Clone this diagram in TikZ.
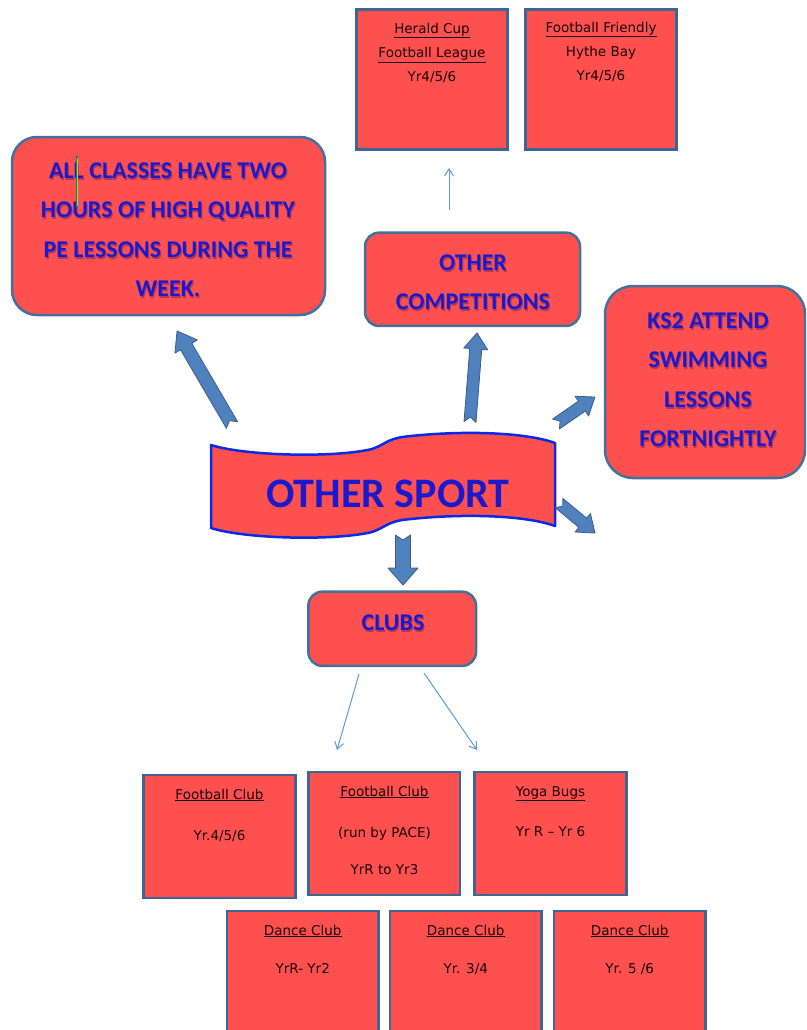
\documentclass[tikz,border=0pt]{standalone}
\usepackage{fontspec}
\usetikzlibrary{arrows.meta,calc}
\newfontfamily\carl{Carlito}
\newfontfamily\smallf{DejaVu Sans}
\definecolor{boxred}{HTML}{FF5050}
\definecolor{boxedge}{HTML}{3D6596}
\definecolor{roundedge}{HTML}{41719C}
\definecolor{txtblue}{HTML}{1A1ACC}
\definecolor{bannerblue}{HTML}{0A28E6}
\definecolor{thinblue}{HTML}{5B9BD5}
\definecolor{arrowfill}{HTML}{4F81BD}
\definecolor{arrowedge}{HTML}{385D8A}
\newcommand\barrowdraw[7]{%
  \begin{scope}[shift={(#1,#2)},rotate=#3]
    \filldraw[barrowst] (0,#5) -- ({#4-#7},#5) -- ({#4-#7},#6) -- (#4,0) -- ({#4-#7},-#6) -- ({#4-#7},-#5) -- (0,-#5) -- (5,0) -- cycle;
  \end{scope}}
\tikzset{
  sqbox/.style={draw=boxedge, fill=boxred, line width=2.7, inner sep=0},
  rbox/.style={draw=roundedge, fill=boxred, line width=2.5, inner sep=0},
  bigtext/.style={font=\carl\bfseries\fontsize{24}{39.5}\selectfont, text=txtblue, align=center, anchor=north, inner sep=0},
  bigshadow/.style={bigtext, text=black!60!blue, text opacity=0.3},
  smalltext/.style={font=\smallf\fontsize{13.5}{15}\selectfont, text=black!90!red, anchor=base, inner sep=0},
  thinarrow/.style={draw=thinblue, line width=1, -{Straight Barb[length=7,width=9]}},
  barrowst/.style={fill=arrowfill, draw=arrowedge, line width=0.8, line join=round},
}
\begin{document}
\begin{tikzpicture}[x=1pt,y=-1pt]
\useasboundingbox (0,0) rectangle (806,1030);
\clip (0,0) rectangle (806,1030);

% top competition boxes
\node[sqbox, minimum width=151, minimum height=140] (hc) at (432,79.5) {};
\node[smalltext] (hc1) at (432,33.3) {\underline{Herald Cup}};
\node[smalltext] (hc2) at (432,57.8) {\underline{Football League}};
\node[smalltext] (hc3) at (432,81.5) {Yr4/5/6};
\node[sqbox, minimum width=151, minimum height=140] (ff) at (601,79.5) {};
\node[smalltext] (ff1) at (601,32.3) {\underline{Football Friendly}};
\node[smalltext] (ff2) at (601,57) {Hythe Bay};
\node[smalltext] (ff3) at (601,81) {Yr4/5/6};

% rounded boxes
\node[rbox, rounded corners=25, minimum width=313, minimum height=178] (all) at (168.5,226) {};
\node[bigshadow] (alls) at (169,164.5) {ALL CLASSES HAVE TWO\\HOURS OF HIGH QUALITY\\PE LESSONS DURING THE\\WEEK.};
\node[bigtext] (allt) at (168,162.5) {ALL CLASSES HAVE TWO\\HOURS OF HIGH QUALITY\\PE LESSONS DURING THE\\WEEK.};
\draw[teal, line width=2.4] (77,156) -- (77,208);
\draw[yellow!70!green, line width=0.8] (77,158) -- (77,206);

\node[rbox, rounded corners=14, minimum width=215, minimum height=93.3] (oc) at (472.5,279.3) {};
\node[bigshadow] (ocs) at (474,256.5) {OTHER\\COMPETITIONS};
\node[bigtext] (oct) at (473,254.5) {OTHER\\COMPETITIONS};

\node[rbox, rounded corners=28, minimum width=200, minimum height=192] (ks) at (705,382) {};
\node[bigshadow] (kss) at (709,314.5) {KS2 ATTEND\\SWIMMING\\LESSONS\\FORTNIGHTLY};
\node[bigtext] (kst) at (708,312.5) {KS2 ATTEND\\SWIMMING\\LESSONS\\FORTNIGHTLY};

\node[rbox, rounded corners=14, minimum width=167.7, minimum height=74.3] (clubs) at (392.2,628.8) {};
\node[bigshadow] (clubss) at (394,616.5) {CLUBS};
\node[bigtext] (clubst) at (393,614.5) {CLUBS};

% banner
\filldraw[fill=boxred, draw=bannerblue, line width=2.5, line join=round]
  (211,445) .. controls (245,456) and (335,458) .. (372,449)
  .. controls (386,444) and (386,440) .. (402,437)
  .. controls (460,430) and (525,432) .. (555,443)
  -- (555,526)
  .. controls (525,515) and (460,513) .. (402,520)
  .. controls (386,523) and (386,527) .. (372,532)
  .. controls (335,541) and (245,539) .. (211,528) -- cycle;
\node[font=\carl\bfseries\fontsize{42}{50}\selectfont, text=txtblue, anchor=north, inner sep=0] (sport) at (388,480) {OTHER SPORT};

% block arrows
\barrowdraw{232}{425}{120.3}{108.9}{6.5}{13}{18}
\barrowdraw{470}{422}{85.5}{89.3}{6}{12}{16}
\barrowdraw{556}{424}{34.7}{47.4}{6}{12}{16}
\barrowdraw{559}{503}{-39.8}{46.9}{6}{12}{16}
\barrowdraw{403}{535}{-90}{50}{7.5}{15}{17}

% thin arrows
\coordinate (t1) at (449,210);
\coordinate (t1e) at (449,168);
\draw[thinarrow] (t1) -- (t1e);
\coordinate (c1) at (359,674);
\coordinate (c1e) at (337,750);
\coordinate (c2) at (424,673);
\coordinate (c2e) at (477,750);
\draw[thinarrow] (c1) -- (c1e);
\draw[thinarrow] (c2) -- (c2e);

% club boxes
\node[sqbox, minimum width=152, minimum height=123] (fc1) at (219.5,836.5) {};
\node[smalltext] (fc1a) at (219.5,799) {\underline{Football Club}};
\node[smalltext] (fc1b) at (219.5,840) {Yr.4/5/6};
\node[sqbox, minimum width=151.5, minimum height=123] (fc2) at (384.25,833.5) {};
\node[smalltext] (fc2a) at (384.5,796) {\underline{Football Club}};
\node[smalltext] (fc2b) at (384.5,837) {(run by PACE)};
\node[smalltext] (fc2c) at (384.5,874) {YrR to Yr3};
\node[sqbox, minimum width=152, minimum height=123] (yb) at (550.5,833.5) {};
\node[smalltext] (yba) at (550.5,796) {\underline{Yoga Bugs}};
\node[smalltext] (ybb) at (550.5,836) {Yr R – Yr 6};

\node[sqbox, minimum width=151.5, minimum height=139] (dc1) at (302.75,980.5) {};
\node[smalltext] (dc1a) at (302.75,935) {\underline{Dance Club}};
\node[smalltext] (dc1b) at (302.75,973) {YrR- Yr2};
\node[sqbox, minimum width=151.5, minimum height=139] (dc2) at (465.75,980.5) {};
\node[smalltext] (dc2a) at (465.75,935) {\underline{Dance Club}};
\node[smalltext] (dc2b) at (465.75,973) {Yr. 3/4};
\node[sqbox, minimum width=151.5, minimum height=139] (dc3) at (629.75,980.5) {};
\node[smalltext] (dc3a) at (629.75,935) {\underline{Dance Club}};
\node[smalltext] (dc3b) at (629.75,973) {Yr. 5 /6};
\end{tikzpicture}
\end{document}
